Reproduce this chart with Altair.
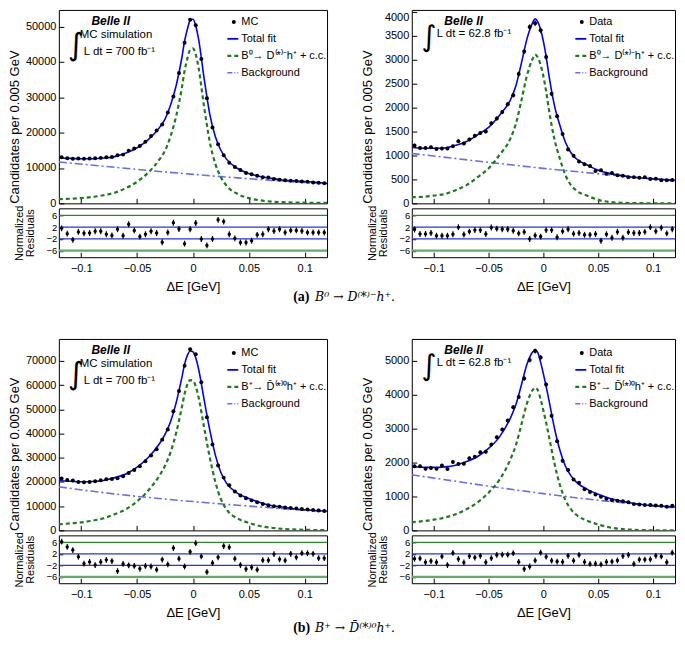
import math
import altair as alt
import pandas as pd

FONT = "Liberation Sans"
SERIF = "Liberation Serif"
MATH = "DejaVu Serif"

# ---------------- data ----------------
# centres of the 0.005 GeV bins from -0.12 to 0.12
BIN_CENTRES = [round(-0.1175 + 0.005 * i, 4) for i in range(48)]
CURVE_X = [-0.12, -0.11, -0.10, -0.09, -0.08, -0.07, -0.06, -0.05, -0.04, -0.03,
           -0.025, -0.02, -0.015, -0.01, -0.0075, -0.005, -0.0025, 0.0, 0.0025,
           0.005, 0.01, 0.015, 0.02, 0.025, 0.03, 0.04, 0.05, 0.06, 0.07, 0.08,
           0.09, 0.10, 0.11, 0.12]
BKG_X = [-0.12, -0.08, -0.04, 0.0, 0.04, 0.08, 0.12]
X_TICKS = [-0.1, -0.05, 0, 0.05, 0.1]
RES_TICKS = [-6, -2, 2, 6]
RES_GREEN = [6, -6]
RES_BLUE = [2, -2]

# (a) B0, MC
tl_counts = [13030, 12760, 12570, 12660, 12570, 12660, 12760, 12850, 13030, 13120,
             13580, 13770, 14900, 15500, 16200, 17400, 19000, 20600, 22300, 25700,
             30200, 36800, 45400, 51900, 50300, 40800, 29700, 21400, 16700, 13600,
             11500, 10300, 9400, 8600, 8200, 7800, 7400, 7300, 6900, 6700,
             6500, 6400, 6300, 6200, 6100, 5900, 5800, 5700]
tl_resid = [1.6, -0.2, -2.3, 0.4, -0.05, 0.0, 0.6, 0.6, -0.4, -0.8,
            1.3, -0.9, 3.0, 0.9, -1.2, -0.4, 0.6, 0.0, -3.1, 0.2,
            3.5, 1.4, -3.6, 1.3, 3.4, -2.0, -4.2, -2.0, 4.5, 3.9,
            -0.4, -1.8, -3.2, -3.2, -2.6, -0.6, -0.4, 1.3, 0.7, 1.3,
            0.2, 0.9, 0.9, 0.7, 0.2, 0.2, 0.2, 0.2]
tl_total = [12900, 12700, 12600, 12600, 12800, 13200, 14200, 15700, 18000, 21400,
            23800, 27800, 33300, 41000, 45800, 49200, 51700, 52000, 50200, 46500,
            35300, 25300, 18900, 15000, 12500, 9850, 8450, 7600, 7100, 6600,
            6350, 6150, 5950, 5650]
tl_signal = [1200, 1300, 1500, 1800, 2300, 3000, 4300, 6100, 8700, 12400,
             14900, 19000, 24700, 32500, 37400, 40900, 43400, 43800, 42100, 38400,
             27300, 17500, 11200, 7400, 5000, 2650, 1470, 850, 500, 330,
             240, 180, 140, 110]
tl_bkg = [11700, 10500, 9300, 8200, 7200, 6300, 5500]

# (a) B0, data
tr_counts = [1209, 1155, 1155, 1169, 1135, 1142, 1142, 1189, 1297, 1250,
             1331, 1412, 1466, 1500, 1669, 1770, 1905, 2068, 2257, 2696,
             3169, 3676, 3757, 3608, 3054, 2284, 1818, 1446, 1122, 993,
             872, 818, 777, 676, 689, 615, 635, 588, 574, 547,
             547, 534, 547, 507, 514, 480, 480, 486]
tr_resid = [1.2, -0.3, -0.3, 0.0, -0.9, -0.9, -0.9, -0.4, 2.0, -0.5,
            0.5, 1.0, 1.0, -0.3, 1.9, 1.5, 1.3, 1.3, 0.8, -0.1,
            0.4, -2.0, -0.8, -1.2, 1.0, 1.0, -1.4, 0.6, 1.3, -0.2,
            0.0, -0.6, -0.6, -0.3, -2.6, -0.4, -1.6, 0.4, -1.6, 0.3,
            0.0, 0.0, 0.4, 2.0, 0.6, 1.8, -0.1, 1.3]
tr_total = [1170, 1150, 1150, 1155, 1210, 1290, 1430, 1585, 1840, 2160,
            2460, 2930, 3430, 3760, 3850, 3780, 3620, 3380, 3060, 2680,
            2050, 1630, 1280, 1060, 930, 800, 690, 625, 585, 550,
            530, 512, 495, 480]
tr_signal = [130, 136, 162, 194, 275, 381, 547, 729, 1010, 1355,
             1668, 2150, 2663, 3005, 3100, 3038, 2884, 2650, 2336, 1961,
             1343, 934, 595, 386, 268, 160, 73, 30, 13, 6,
             3, 2, 1, 1]
tr_bkg = [1040, 935, 830, 730, 640, 550, 465]

# (b) B+, MC
bl_counts = [21400, 20800, 20600, 20000, 19900, 20000, 20300, 20700, 21100, 21200,
             21500, 22400, 23700, 24900, 26500, 28600, 30900, 33500, 37500, 41700,
             49200, 57600, 68000, 74800, 72800, 61200, 46700, 35500, 26800, 21800,
             18600, 16100, 14400, 13300, 12400, 11600, 10900, 10400, 10000, 9800,
             9500, 9200, 9000, 8800, 8600, 8400, 8200, 8000]
bl_resid = [6.2, 4.4, 3.3, 1.0, -1.4, -0.8, -1.9, -0.8, -0.1, -0.5,
            -4.0, -1.5, -2.0, -2.2, -3.2, -2.2, -2.4, -3.5, 0.0, -1.7,
            4.0, 0.3, -2.4, 2.7, 5.7, 1.1, -4.3, -1.2, 0.8, 4.7,
            4.3, 0.3, -1.9, -3.3, -2.7, -3.5, -0.2, -0.2, 1.9, 0.1,
            -0.3, 2.0, 0.8, 2.2, 2.2, 2.0, 0.5, 0.5]
bl_total = [20500, 20300, 20100, 20200, 20600, 21800, 23300, 26100, 30100, 35800,
            39700, 45000, 52800, 63000, 68600, 72300, 74100, 73800, 71300, 66800,
            54000, 41600, 31200, 23900, 19500, 15300, 13200, 11500, 10300, 9650,
            8950, 8500, 8200, 7900]
bl_signal = [2500, 2900, 3300, 4000, 5000, 6700, 8700, 12000, 16500, 22600,
             26700, 32300, 40300, 50700, 56400, 60200, 62100, 61900, 59500, 55100,
             42500, 30300, 20100, 12900, 8700, 4900, 3150, 1800, 1100, 650,
             380, 230, 150, 100]
bl_bkg = [18000, 15600, 13600, 11900, 10400, 9000, 7700]

# (b) B+, data
br_counts = [1894, 1894, 1819, 1838, 1819, 1913, 1810, 2017, 1961, 1970,
             2130, 2177, 2309, 2318, 2534, 2751, 2977, 3240, 3636, 3937,
             4483, 5029, 5293, 5104, 4304, 3382, 2629, 2055, 1782, 1500,
             1405, 1217, 1132, 1057, 991, 935, 888, 878, 859, 831,
             775, 765, 746, 746, 737, 727, 699, 727]
br_resid = [0.3, 0.4, -0.9, -0.5, -0.9, 1.1, -1.9, 2.3, 0.2, -1.0,
            1.2, 0.7, 1.3, -0.9, 0.5, 1.6, 1.7, 1.7, 2.2, -0.8,
            -3.3, -2.4, -0.3, 2.4, 1.0, -0.4, -0.7, -0.8, 1.3, -0.4,
            1.6, -0.8, -1.5, -1.4, -1.7, -0.8, -0.7, -0.3, 1.2, 1.6,
            -1.5, 0.0, 0.0, 0.1, 1.3, 1.1, -0.9, 2.4]
br_total = [1880, 1865, 1860, 1875, 1925, 2030, 2180, 2420, 2760, 3320,
            3720, 4300, 4900, 5260, 5330, 5240, 4960, 4620, 4250, 3850,
            3030, 2370, 1900, 1615, 1425, 1210, 1065, 950, 870, 810,
            765, 730, 708, 690]
br_signal = [240, 273, 315, 378, 475, 628, 825, 1113, 1500, 2104,
             2526, 3128, 3749, 4131, 4212, 4133, 3864, 3535, 3175, 2785,
             1985, 1345, 895, 630, 460, 285, 174, 92, 46, 20,
             8, 3, 2, 1]
br_bkg = [1640, 1450, 1260, 1085, 925, 790, 665]

# ---------------- styles ----------------
C_TOTAL = "#0000ff"
C_SIG = "#1f7a1f"
C_BKG = "#6b6bf2"
C_G6 = "#2a8a2a"
C_G6B = "#63ab63"
C_B2 = "#2233ee"
DASH_SIG = [4, 3]
DASH_BKG = [8, 3, 2, 3]

XSCALE = alt.Scale(domain=[-0.12, 0.12], nice=False, zero=False)
NOFRAME = alt.ViewBackground(stroke="transparent")


def one(**kw):
    return pd.DataFrame({k: [v] for k, v in kw.items()})


def txt(s, x, y, size=11, weight="normal", style="normal", font=FONT, align="left"):
    return alt.Chart(one(t=s)).mark_text(
        align=align, baseline="middle", fontSize=size, fontWeight=weight,
        fontStyle=style, font=font, color="black"
    ).encode(x=alt.value(x), y=alt.value(y), text="t:N")


def seg(x1, x2, y, color, width, dash=None):
    kw = dict(color=color, strokeWidth=width)
    if dash:
        kw["strokeDash"] = dash
    return alt.Chart(one(a=0)).mark_rule(**kw).encode(
        x=alt.value(x1), x2=alt.value(x2), y=alt.value(y))


def main_chart(counts, total, signal, bkg, ymax, yticks, W, H, first, sig_label,
               lumi, mc, ytxt, top_flush=False):
    X = alt.X("x:Q", scale=XSCALE,
              axis=alt.Axis(values=X_TICKS, labels=False, domain=False, grid=False,
                            tickSize=5, offset=-5, title=None))
    yscale = alt.Scale(domain=[0, ymax], nice=False, zero=False)
    ax = dict(values=yticks, format="d", tickSize=5, offset=-5, domain=False,
              grid=False, labelPadding=3, title="Candidates per 0.005 GeV",
              titlePadding=2, titleAnchor="start", minExtent=40, maxExtent=40)
    if top_flush:
        ax["labelBaseline"] = {"condition": {"test": f"datum.value >= {yticks[-1]}",
                                             "value": "top"},
                               "value": "middle"}
    yaxis = alt.Axis(**ax)

    def Y(f):
        return alt.Y(f, scale=yscale, axis=yaxis)

    pts = pd.DataFrame({"x": BIN_CENTRES, "y": counts})
    pts["lo"] = [c - math.sqrt(c) for c in counts]
    pts["hi"] = [c + math.sqrt(c) for c in counts]

    bkg_l = alt.Chart(pd.DataFrame({"x": BKG_X, "y": bkg})).mark_line(
        color=C_BKG, strokeWidth=1.6, strokeDash=DASH_BKG, interpolate="monotone",
        clip=True).encode(x=X, y=Y("y:Q"))
    sig_l = alt.Chart(pd.DataFrame({"x": CURVE_X, "y": signal})).mark_line(
        color=C_SIG, strokeWidth=2.2, strokeDash=DASH_SIG, interpolate="monotone",
        clip=True).encode(x=X, y=Y("y:Q"))
    tot_l = alt.Chart(pd.DataFrame({"x": CURVE_X, "y": total})).mark_line(
        color=C_TOTAL, strokeWidth=1.6, interpolate="monotone",
        clip=True).encode(x=X, y=Y("y:Q"))
    err = alt.Chart(pts).mark_rule(color="black", strokeWidth=1).encode(
        x=X, y=Y("lo:Q"), y2="hi:Q")
    dots = alt.Chart(pts).mark_circle(size=16, color="black", opacity=1).encode(
        x=X, y=Y("y:Q"))

    sx1, sx2, tx = W - 100, W - 89, W - 86
    rows = [ytxt + 0, ytxt + 17, ytxt + 34, ytxt + 51]
    legend = [
        alt.Chart(one(a=0)).mark_circle(size=16, color="black", opacity=1).encode(
            x=alt.value((sx1 + sx2) / 2 + 1), y=alt.value(rows[0])),
        txt(first, tx, rows[0]),
        seg(sx1, sx2, rows[1], C_TOTAL, 1.8),
        txt("Total fit", tx, rows[1]),
        seg(sx1, sx2, rows[2], C_SIG, 2.2, DASH_SIG),
        txt(sig_label, tx, rows[2]),
        seg(sx1, sx2, rows[3], C_BKG, 1.6, [5, 2, 1, 2]),
        txt("Background", tx, rows[3]),
    ]
    notes = [txt("Belle II", 52, 11, size=12, weight="bold", style="italic",
                 align="center")]
    if mc:
        notes += [txt("∫", 17, 36, size=31, font="DejaVu Sans", align="center"),
                  txt("MC simulation", 21, 25, size=11.5),
                  txt(lumi, 25, 42, size=11.5)]
    else:
        notes += [txt("∫", 17, 27, size=29, font="DejaVu Sans", align="center"),
                  txt(lumi, 25, 24, size=11.5)]
    return alt.layer(bkg_l, sig_l, tot_l, err, dots, *legend, *notes).properties(
        width=W, height=H)


def resid_chart(resid, W, H):
    X = alt.X("x:Q", scale=XSCALE,
              axis=alt.Axis(values=X_TICKS, format="~g", tickSize=5, offset=-5,
                            domain=False, grid=False, labelPadding=5,
                            title="ΔE  [GeV]", titlePadding=7,
                            minExtent=21, maxExtent=21))
    yscale = alt.Scale(domain=[-8.2, 8.4], nice=False, zero=False)
    yaxis = alt.Axis(values=RES_TICKS, tickSize=4, offset=-4, domain=False,
                     grid=False, labelPadding=2, labelFontSize=9.5,
                     title=["Normalized", "Residuals"], titleFontSize=11,
                     titleLineHeight=11, titlePadding=2, minExtent=25, maxExtent=25)

    def Y(f):
        return alt.Y(f, scale=yscale, axis=yaxis)

    df = pd.DataFrame({"x": BIN_CENTRES, "r": resid})
    df["lo"] = [r - 1 for r in resid]
    df["hi"] = [r + 1 for r in resid]
    g_top = alt.Chart(pd.DataFrame({"r": RES_GREEN[:1]})).mark_rule(
        color=C_G6, strokeWidth=1.3).encode(y=Y("r:Q"))
    g_bot = alt.Chart(pd.DataFrame({"r": RES_GREEN[1:]})).mark_rule(
        color=C_G6B, strokeWidth=2.2).encode(y=Y("r:Q"))
    blue = alt.Chart(pd.DataFrame({"r": RES_BLUE})).mark_rule(
        color=C_B2, strokeWidth=1.3).encode(y=Y("r:Q"))
    err = alt.Chart(df).mark_rule(color="black", strokeWidth=1.2).encode(
        x=X, y=Y("lo:Q"), y2="hi:Q")
    dots = alt.Chart(df).mark_circle(size=12, color="black", opacity=1).encode(
        x=X, y=Y("r:Q"))
    return alt.layer(g_top, g_bot, blue, err, dots).properties(width=W, height=H)


def caption(tag, formula, W, H, y):
    return alt.layer(
        txt(tag, 235, y, size=14, weight="bold", font=SERIF),
        txt(formula, 257, y, size=12.5, style="italic", font=MATH),
    ).properties(width=W, height=H, view=NOFRAME)


def blank(W, H):
    return alt.Chart(one(t="")).mark_text().encode(
        x=alt.value(0), y=alt.value(0), text="t:N"
    ).properties(width=W, height=H, view=NOFRAME)


WL, WR = 269, 264
HA, HB = 194, 192
RA, RB = 49, 48
CA, CB = 72, 47

sig_a = "B⁰→ D⁽*⁾⁻h⁺ + c.c."
sig_b = "B⁺→ D̄⁽*⁾⁰h⁺ + c.c."

cells = [
    main_chart(tl_counts, tl_total, tl_signal, tl_bkg, 54650,
               [0, 10000, 20000, 30000, 40000, 50000], WL, HA, "MC", sig_a,
               "L dt = 700 fb⁻¹", True, 12),
    main_chart(tr_counts, tr_total, tr_signal, tr_bkg, 4034,
               [0, 500, 1000, 1500, 2000, 2500, 3000, 3500, 4000], WR, HA,
               "Data", sig_a, "L dt = 62.8 fb⁻¹", False, 12, top_flush=True),
    resid_chart(tl_resid, WL, RA),
    resid_chart(tr_resid, WR, RA),
    caption("(a)", "B⁰ → D⁽*⁾⁻h⁺.", WL, CA, 35),
    blank(WR, CA),
    main_chart(bl_counts, bl_total, bl_signal, bl_bkg, 79100,
               [0, 10000, 20000, 30000, 40000, 50000, 60000, 70000], WL, HB,
               "MC", sig_b, "L dt = 700 fb⁻¹", True, 14),
    main_chart(br_counts, br_total, br_signal, br_bkg, 5650,
               [0, 1000, 2000, 3000, 4000, 5000], WR, HB,
               "Data", sig_b, "L dt = 62.8 fb⁻¹", False, 14),
    resid_chart(bl_resid, WL, RB),
    resid_chart(br_resid, WR, RB),
    caption("(b)", "B⁺ → D̄⁽*⁾⁰h⁺.", WL, CB, 40),
    blank(WR, CB),
]

chart = alt.concat(
    *cells, columns=2, spacing=alt.RowColnumber(row=5, column=85),
    bounds="flush", align="each", padding=0,
).configure(font=FONT).configure_view(
    stroke="black", strokeWidth=1
).configure_axis(
    labelFont=FONT, titleFont=FONT, labelColor="black", titleColor="black",
    tickColor="black", labelFontSize=11, titleFontSize=13,
    titleFontWeight="normal", labelOverlap=False, labelFlush=False
)

chart.save("out.html", embed_options={"renderer": "svg", "actions": False})
